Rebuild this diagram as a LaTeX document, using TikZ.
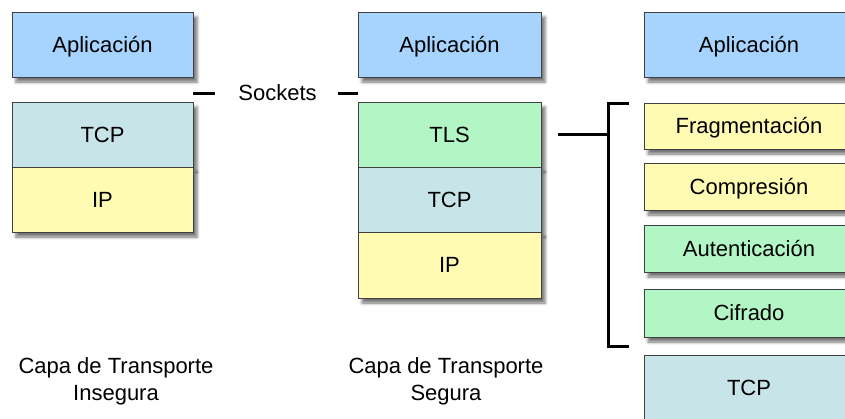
\documentclass[tikz,border=0pt]{standalone}
\usepackage{fontspec}
\setmainfont{Liberation Sans}
\usetikzlibrary{shadows.blur}
\definecolor{appblue}{HTML}{A6D4FF}
\definecolor{tcpcyan}{HTML}{C7E5E9}
\definecolor{ipyellow}{HTML}{FFFBB2}
\definecolor{tlsgreen}{HTML}{B3F6C6}
\begin{document}
\begin{tikzpicture}[x=1pt,y=-1pt,
  layer/.style={draw=black!75, line width=0.7pt, inner sep=0pt,
    font=\fontsize{22}{26}\selectfont, text height=15.5pt, text depth=0pt,
    blur shadow={shadow xshift=4pt, shadow yshift=-5pt,
      shadow blur radius=3pt, shadow opacity=55}},
  label/.style={font=\fontsize{22}{27}\selectfont, align=center, inner sep=0pt},
  bar/.style={line width=3pt, black}]
\useasboundingbox (0,0) rectangle (845,418);

% insecure stack
\node[layer, fill=appblue,  minimum width=181pt, minimum height=65pt] (appA) at (102.5,44.5) {Aplicación};
\node[layer, fill=tcpcyan,  minimum width=181pt, minimum height=65pt] (tcpA) at (102.5,134.5) {TCP};
\node[layer, fill=ipyellow, minimum width=181pt, minimum height=65pt] (ipA)  at (102.5,199.5) {IP};

% secure stack
\node[layer, fill=appblue,  minimum width=183pt, minimum height=65pt] (appB) at (449.5,44.5) {Aplicación};
\node[layer, fill=tlsgreen, minimum width=183pt, minimum height=65pt] (tlsB) at (449.5,134.5) {TLS};
\node[layer, fill=tcpcyan,  minimum width=183pt, minimum height=65pt] (tcpB) at (449.5,199.5) {TCP};
\node[layer, fill=ipyellow, minimum width=183pt, minimum height=66pt] (ipB)  at (449.5,265) {IP};

% TLS detail
\node[layer, fill=appblue,  minimum width=210pt, minimum height=65pt] (appC) at (749,44.5) {Aplicación};
\node[layer, fill=ipyellow, minimum width=210pt, minimum height=46pt] (frag) at (749,126) {Fragmentación};
\node[layer, fill=ipyellow, minimum width=210pt, minimum height=47pt] (comp) at (749,186.5) {Compresión};
\node[layer, fill=tlsgreen, minimum width=210pt, minimum height=47pt] (aut)  at (749,248.5) {Autenticación};
\node[layer, fill=tlsgreen, minimum width=210pt, minimum height=48pt] (cif)  at (749,313) {Cifrado};
\node[layer, fill=tcpcyan,  minimum width=210pt, minimum height=66pt] (tcpC) at (749,388) {TCP};

% sockets interface
\node[label] (sock) at (277.5,93) {Sockets};
\coordinate (sl) at (appA.east |- sock);
\coordinate (sr) at (appB.west |- sock);
\draw[bar] (sl) -- ++(22,0);
\draw[bar] (sr) -- ++(-20,0);

% bracket grouping the TLS functions
\coordinate (tlsout) at ([xshift=17pt]tlsB.east);
\coordinate (bt) at (608,103);
\coordinate (bb) at (608,346);
\draw[bar] (tlsout) -- (tlsout -| bt);
\draw[bar, line cap=rect] ([xshift=19pt]bt) -- (bt) -- (bb) -- ([xshift=19pt]bb);

% captions
\node[label] (capA) at (116,381) {Capa de Transporte\\Insegura};
\node[label] (capB) at (446,381) {Capa de Transporte\\Segura};
\end{tikzpicture}
\end{document}
